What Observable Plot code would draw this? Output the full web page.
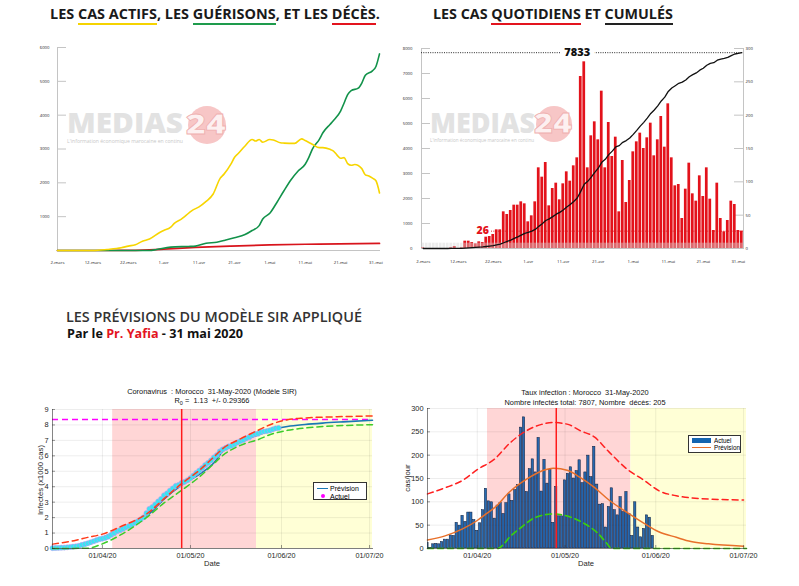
<!DOCTYPE html>
<html>
<head>
<meta charset="utf-8">
<script src="https://cdn.jsdelivr.net/npm/d3@7"></script>
<script src="https://cdn.jsdelivr.net/npm/@observablehq/plot@0.6"></script>
<style>
html,body{margin:0;padding:0;background:#fff;}
#wrap{position:relative;width:799px;height:586px;overflow:hidden;background:#fff;}
.abs{position:absolute;}
.head{position:absolute;white-space:nowrap;font-family:"Open Sans",sans-serif;font-weight:700;color:#1a1a1a;line-height:16px;font-size:13px;}
.uy{border-bottom:2px solid #f5d300;}
.ug{border-bottom:2px solid #1e9b4c;}
.ur{border-bottom:2px solid #e3141e;}
.uk{border-bottom:2px solid #222;}
.ml{position:absolute;font-family:"Liberation Sans",Arial,sans-serif;color:#111;white-space:pre;text-align:center;}
.leg{position:absolute;background:#fff;border:0.7px solid #333;box-sizing:border-box;font-family:"Liberation Sans",Arial,sans-serif;}
.leg div{position:absolute;white-space:nowrap;}
</style>
</head>
<body>
<div id="wrap">
  <svg class="abs" width="799" height="586" style="left:0;top:0">
    <g font-family="Open Sans, sans-serif" font-weight="800">
      <text x="67" y="133" font-size="29" fill="#e2e2e2" textLength="116" lengthAdjust="spacingAndGlyphs">MEDIAS</text>
      <circle cx="207" cy="125" r="19" fill="#f7c6c6"/>
      <text x="186" y="134" font-size="29" fill="#fdf0f0" stroke="#efb0b0" stroke-width="0.8" textLength="40" lengthAdjust="spacingAndGlyphs">24</text>
      <text x="67" y="143" font-size="4.6" font-weight="400" fill="#c8c8c8" textLength="116" lengthAdjust="spacingAndGlyphs">L'information économique marocaine en continu</text>
      <text x="430" y="133" font-size="29" fill="#e2e2e2" textLength="105" lengthAdjust="spacingAndGlyphs">MEDIAS</text>
      <circle cx="554" cy="124" r="18" fill="#f7c6c6"/>
      <text x="534" y="133" font-size="28" fill="#fdf0f0" stroke="#efb0b0" stroke-width="0.8" textLength="38" lengthAdjust="spacingAndGlyphs">24</text>
      <text x="430" y="142" font-size="4.4" font-weight="400" fill="#c8c8c8" textLength="104" lengthAdjust="spacingAndGlyphs">L'information économique marocaine en continu</text>
    </g>
  </svg>

  <div id="h1" class="head" style="left:50px;top:6px">LES <span class="uy">CAS ACTIFS</span>, LES <span class="ug">GUÉRISONS</span>, ET LES <span class="ur">DÉCÈS</span>.</div>
  <div id="h2" class="head" style="left:433px;top:6px">LES CAS <span class="ur">QUOTIDIENS</span> ET <span class="uk">CUMULÉS</span></div>
  <div id="h3" class="head" style="left:66px;top:310px;font-size:11.5px;line-height:14px;font-weight:600;color:#333">LES PRÉVISIONS DU MODÈLE SIR APPLIQUÉ</div>
  <div id="h4" class="head" style="left:67px;top:327px;font-size:12px;line-height:14px;color:#111">Par le <span style="color:#e3141e">Pr. Yafia</span> - 31 mai 2020</div>

  <div id="p1" class="abs" style="left:0;top:35px"></div>
  <div id="p2" class="abs" style="left:399px;top:35px"></div>
  <div id="p3" class="abs" style="left:0;top:380px"></div>
  <div id="p4" class="abs" style="left:395px;top:380px"></div>

  <div class="ml" style="left:62px;width:300px;top:387px;font-size:7.4px;line-height:9px">Coronavirus  : Morocco  31-May-2020 (Modèle SIR)</div>
  <div class="ml" style="left:62px;width:300px;top:396px;font-size:7.4px;line-height:9px">R<sub style="font-size:5.5px;vertical-align:-1.5px;line-height:0">0</sub> =  1.13  +/- 0.29366</div>
  <div class="ml" style="left:435px;width:300px;top:388px;font-size:7.4px;line-height:10px">Taux infection : Morocco  31-May-2020</div>
  <div class="ml" style="left:435px;width:300px;top:398px;font-size:7.4px;line-height:10px">Nombre infectés total: 7807, Nombre  décès: 205</div>

  <div class="ml" style="left:192px;width:40px;top:559px;font-size:7.6px;line-height:10px;color:#262626">Date</div>
  <div class="ml" style="left:566px;width:40px;top:559px;font-size:7.6px;line-height:10px;color:#262626">Date</div>
  <div class="ml" style="left:-9px;width:100px;top:475px;font-size:7.8px;line-height:10px;color:#262626;transform:rotate(-90deg)">Infectés (x1000 cas)</div>
  <div class="ml" style="left:368px;width:80px;top:473px;font-size:7.8px;line-height:10px;color:#262626;transform:rotate(-90deg)">cas/jour</div>

  <div class="leg" style="left:313px;top:482px;width:54px;height:18px;font-size:7px">
    <div style="left:3px;top:4.6px;width:11px;height:1.8px;background:#1a78b4"></div>
    <div style="left:16px;top:0.8px;line-height:9px">Prévision</div>
    <div style="left:7px;top:10.5px;width:4px;height:4px;border-radius:50%;background:#ff00ff"></div>
    <div style="left:16px;top:8.5px;line-height:9px">Actuel</div>
  </div>
  <div class="leg" style="left:688px;top:435px;width:53px;height:18px;font-size:6.3px">
    <div style="left:3px;top:2.3px;width:19px;height:4.4px;background:#1565b0"></div>
    <div style="left:25px;top:0.5px;line-height:8px">Actuel</div>
    <div style="left:3px;top:10.8px;width:19px;height:1.6px;background:#e8702a"></div>
    <div style="left:25px;top:7.8px;line-height:8px">Prévision</div>
  </div>
</div>

<script>
// ================= DATA =================
// Panel 1 : cas actifs, guérisons, décès
const activeDates = ["2020-03-02","2020-03-12","2020-03-16","2020-03-20","2020-03-22","2020-03-24","2020-03-26","2020-03-28","2020-03-31","2020-04-01","2020-04-03","2020-04-04","2020-04-06","2020-04-07","2020-04-09","2020-04-11","2020-04-13","2020-04-15","2020-04-17","2020-04-18","2020-04-20","2020-04-21","2020-04-22","2020-04-24","2020-04-26","2020-04-27","2020-04-28","2020-04-29","2020-05-01","2020-05-02","2020-05-04","2020-05-05","2020-05-08","2020-05-10","2020-05-11","2020-05-13","2020-05-15","2020-05-16","2020-05-18","2020-05-19","2020-05-20","2020-05-21","2020-05-22","2020-05-23","2020-05-24","2020-05-25","2020-05-27","2020-05-28","2020-05-29","2020-05-30","2020-05-31","2020-06-01"];
const activeCases = [0,0,30,80,130,170,275,340,540,590,690,800,930,1010,1180,1290,1450,1670,2140,2250,2550,2750,2860,3090,3280,3235,3280,3200,3280,3265,3185,3175,3165,3300,3250,3140,3040,3040,2990,2940,2820,2725,2745,2570,2520,2540,2420,2235,2205,2140,2060,1700];
const recoveredDates = ["2020-03-02","2020-03-28","2020-03-30","2020-04-03","2020-04-08","2020-04-10","2020-04-13","2020-04-16","2020-04-18","2020-04-21","2020-04-24","2020-04-26","2020-04-28","2020-04-29","2020-05-01","2020-05-03","2020-05-05","2020-05-07","2020-05-09","2020-05-11","2020-05-12","2020-05-13","2020-05-15","2020-05-16","2020-05-18","2020-05-19","2020-05-21","2020-05-22","2020-05-23","2020-05-24","2020-05-26","2020-05-27","2020-05-28","2020-05-30","2020-05-31","2020-06-01"];
const recoveredCases = [0,0,30,100,120,130,215,245,295,375,470,590,735,930,1100,1420,1765,2090,2350,2550,2745,2990,3285,3480,3725,3840,4120,4360,4610,4725,4800,4950,5180,5310,5440,5810];
const deathDates = ["2020-03-02","2020-03-12","2020-03-20","2020-03-28","2020-04-01","2020-04-10","2020-04-20","2020-05-01","2020-05-15","2020-06-01"];
const deathCases = [0,0,2,20,40,90,130,165,190,210];
const p1Domain = ["2020-03-02","2020-06-01"];
const p1TickDates = ["2020-03-02","2020-03-12","2020-03-22","2020-04-01","2020-04-11","2020-04-21","2020-05-01","2020-05-11","2020-05-21","2020-05-31"];
const p1TickLabels = ["2-mars","12-mars","22-mars","1-avr","11-avr","21-avr","1-mai","11-mai","21-mai","31-mai"];
const p1YTicks = [1000,2000,3000,4000,5000,6000];
const p1YMax = 6000;

// Panel 2 : cas quotidiens et cumulés (2 mars -> 1 juin)
const dailyRange = ["2020-03-02","2020-06-02"];
const dailyCases = [1,0,0,0,0,0,0,0,1,3,0,1,11,11,9,7,10,9,17,18,21,28,28,55,51,57,65,65,70,67,40,49,70,121,107,129,64,90,98,73,97,115,101,124,136,258,280,121,169,190,163,236,121,189,138,167,55,132,69,102,145,160,173,150,166,188,139,163,198,152,217,136,94,96,45,89,128,82,71,109,78,121,74,27,98,45,25,42,71,66,27,26];
const cumulativeCases = [1,1,1,1,1,1,1,1,2,5,5,6,17,28,37,44,54,63,80,98,119,147,175,230,281,338,403,468,538,605,645,694,764,885,992,1121,1185,1275,1373,1446,1543,1658,1759,1883,2019,2287,2567,2688,2857,3047,3210,3446,3567,3756,3894,4061,4116,4248,4317,4419,4564,4724,4897,5047,5213,5401,5540,5703,5901,6053,6283,6419,6513,6609,6654,6743,6871,6953,7024,7133,7211,7332,7406,7433,7531,7576,7601,7643,7714,7780,7807,7833];
const p2LeftTicks = [0,1000,2000,3000,4000,5000,6000,7000,8000];
const p2RightTicks = [0,50,100,150,200,250,300];
const p2LeftMax = 8000, p2RightMax = 300;
const p2TotalLabel = 7833, p2LastLabel = 26;
const p2GreyBand = 8;

// Panel 3 : modèle SIR (infectés cumulés, x1000)
const sirDomain = ["2020-03-15","2020-07-02"];
const phaseEdges = ["2020-04-04T12:00Z","2020-05-23T12:00Z","2020-07-02"];
const peakDate = "2020-04-28";
const sirPlateau = 8.35;
const sirUpperDates = ["2020-03-15","2020-03-23","2020-03-27","2020-04-01","2020-04-07","2020-04-17","2020-04-22","2020-04-28","2020-05-04","2020-05-09","2020-05-12","2020-05-18","2020-05-24","2020-05-29","2020-06-03","2020-06-09","2020-06-20","2020-07-02"];
const sirUpper = [0.28,0.54,0.72,0.93,1.4,2.37,3.23,4.2,5.06,5.93,6.47,7.1,7.65,8.08,8.34,8.45,8.53,8.58];
const sirForecastDates = ["2020-03-15","2020-03-20","2020-03-27","2020-04-01","2020-04-07","2020-04-12","2020-04-17","2020-04-22","2020-04-28","2020-05-04","2020-05-09","2020-05-12","2020-05-18","2020-05-24","2020-05-29","2020-06-03","2020-06-09","2020-06-15","2020-06-22","2020-07-02"];
const sirForecast = [0.03,0.08,0.35,0.72,1.25,1.65,2.25,3.2,4.1,4.8,5.55,6.3,6.9,7.35,7.7,7.9,8.03,8.12,8.2,8.3];
const sirLowerDates = ["2020-03-15","2020-03-27","2020-04-01","2020-04-07","2020-04-17","2020-04-22","2020-04-28","2020-05-04","2020-05-09","2020-05-12","2020-05-18","2020-05-24","2020-05-29","2020-06-03","2020-06-09","2020-07-02"];
const sirLower = [0,0.02,0.3,0.86,2.15,2.95,3.77,4.63,5.5,6.03,6.68,7.05,7.43,7.65,7.8,8.02];
const sirYTicks = [0,1,2,3,4,5,6,7,8,9];
const monthTicks = ["2020-04-01","2020-05-01","2020-06-01","2020-07-01"];

// Panel 4 : taux d'infection (cas/jour)
const modelDailyRange = ["2020-03-15","2020-06-01"];
const modelDaily = [12,1,9,10,9,14,19,19,28,27,55,49,70,57,77,77,61,38,54,82,128,101,99,64,92,98,74,97,116,102,125,136,259,281,121,170,191,163,237,122,190,139,168,55,132,69,69,146,160,174,150,166,189,140,163,199,153,218,137,94,95,45,89,129,82,71,110,78,121,74,27,99,45,24,42,71,66,27];
const rateUpperDates = ["2020-03-15","2020-03-21","2020-03-27","2020-04-01","2020-04-07","2020-04-12","2020-04-18","2020-04-23","2020-04-27","2020-05-02","2020-05-06","2020-05-11","2020-05-16","2020-05-22","2020-05-28","2020-06-02","2020-06-08","2020-06-19","2020-07-01"];
const rateUpper = [117,130,146,169,192,225,253,266,270,266,253,239,207,171,146,124,113,106,104];
const rateForecastDates = ["2020-03-15","2020-03-21","2020-03-27","2020-04-01","2020-04-04","2020-04-07","2020-04-12","2020-04-18","2020-04-23","2020-04-27","2020-05-02","2020-05-06","2020-05-11","2020-05-16","2020-05-22","2020-05-28","2020-06-02","2020-06-08","2020-06-13","2020-06-19","2020-07-01"];
const rateForecast = [18,27,42,60,74,88,121,149,166,172,167,153,131,104,78,54,36,24,15,10,5];
const rateLowerDates = ["2020-03-15","2020-04-08","2020-04-10","2020-04-12","2020-04-16","2020-04-21","2020-04-27","2020-05-03","2020-05-08","2020-05-12","2020-05-15","2020-05-17","2020-07-02"];
const rateLower = [0,0,9,24,45,67,74,67,52,34,13,0,0];
const rateYTicks = [0,50,100,150,200,250,300];

// ================= HELPERS =================
const D = s => new Date(s);
const rows = (dates, vals) => dates.map((d, i) => ({date: D(d), value: vals[i]}));
const tiny = {fontFamily: "Open Sans, sans-serif", background: "transparent"};
const mat = {fontFamily: "Liberation Sans, Arial, sans-serif", background: "transparent", color: "#262626"};

// ================= PANEL 1 =================
{
  const W = 399, H = 240, mL = 57, mR = 20, mT = 12, mB = 25;
  const tickD = p1TickDates.map(D);
  const p = Plot.plot({
    width: W, height: H, marginLeft: mL, marginRight: mR, marginTop: mT, marginBottom: mB,
    style: tiny,
    x: {type: "utc", domain: p1Domain.map(D), label: null},
    y: {domain: [0, p1YMax], label: null},
    marks: [
      Plot.frame({anchor: "left", stroke: "#c4c4c4"}),
      Plot.frame({anchor: "bottom", stroke: "#c4c4c4"}),
      Plot.tickY(p1YTicks, {y: d => d, stroke: "#c4c4c4", insetRight: W - mL - mR - 9}),
      Plot.axisY({ticks: p1YTicks, tickFormat: d => String(d), tickSize: 0, tickPadding: 8, fontSize: 4.3, fill: "#222"}),
      Plot.axisX({ticks: tickD, tickFormat: d => p1TickLabels[tickD.findIndex(t => +t === +d)], tickSize: 0, tickPadding: 10, fontSize: 4.3, fill: "#222"}),
      Plot.line(rows(deathDates, deathCases), {x: "date", y: "value", stroke: "#d8141c", strokeWidth: 1.7, curve: "monotone-x"}),
      Plot.line(rows(recoveredDates, recoveredCases), {x: "date", y: "value", stroke: "#12924a", strokeWidth: 1.6, curve: "monotone-x"}),
      Plot.line(rows(activeDates, activeCases), {x: "date", y: "value", stroke: "#f7d500", strokeWidth: 1.6, curve: "monotone-x"})
    ]
  });
  document.getElementById("p1").append(p);
}

// ================= PANEL 2 =================
const dailyDates = d3.utcDay.range(D(dailyRange[0]), D(dailyRange[1]));
const rows2 = dailyDates.map((date, i) => ({date, daily: dailyCases[i], cum: cumulativeCases[i]}));
{
  const W = 400, H = 240, mL = 22, mR = 56, mT = 13, mB = 27;
  const k = p2RightMax / p2LeftMax;
  const tickD = p1TickDates.map(D);
  const p = Plot.plot({
    width: W, height: H, marginLeft: mL, marginRight: mR, marginTop: mT, marginBottom: mB,
    style: tiny,
    x: {type: "band", domain: dailyDates, paddingInner: 0.22, paddingOuter: 0.1, label: null},
    y: {domain: [0, p2RightMax], label: null},
    marks: [
      Plot.frame({anchor: "left", stroke: "#c4c4c4"}),
      Plot.frame({anchor: "right", stroke: "#c4c4c4"}),
      Plot.frame({anchor: "bottom", stroke: "#c4c4c4"}),
      Plot.tickY(p2LeftTicks, {y: d => d * k, stroke: "#c4c4c4", insetRight: W - mL - mR - 9}),
      Plot.tickY(p2RightTicks, {y: d => d, stroke: "#c4c4c4", insetLeft: W - mL - mR - 9}),
      Plot.barY(rows2, {x: "date", y: "daily", fill: "#e3121b"}),
      Plot.barY(rows2, {x: "date", y1: 0, y2: p2GreyBand, fill: "#d4d4d4", fillOpacity: 0.45}),
      Plot.ruleY([p2LastLabel], {y: d => d, stroke: "#e3121b", strokeWidth: 0.9, strokeDasharray: "1,1.3", insetLeft: 70}),
      Plot.text([p2LastLabel], {x: () => dailyDates[17], y: d => d, text: d => String(d), fill: "#e3121b", fontWeight: 800, fontSize: 10.5, lineAnchor: "bottom", dy: 3}),
      Plot.line(rows2, {x: "date", y: d => d.cum * k, stroke: "#111", strokeWidth: 1.3}),
      Plot.ruleY([p2TotalLabel], {y: d => d * k, stroke: "#111", strokeWidth: 0.9, strokeDasharray: "1,1.3"}),
      Plot.text([p2TotalLabel], {x: () => dailyDates[44], y: d => d * k, text: d => String(d), fill: "#111", fontWeight: 800, fontSize: 11, stroke: "white", strokeWidth: 10, paintOrder: "stroke"}),
      Plot.axisY({anchor: "left", ticks: p2LeftTicks.map(v => v * k), tickFormat: v => String(p2LeftTicks[Math.round(v / k / 1000)]), tickSize: 0, tickPadding: 9, fontSize: 4.3, fill: "#222"}),
      Plot.axisY({anchor: "right", ticks: p2RightTicks, tickFormat: d => String(d), tickSize: 0, tickPadding: 2, fontSize: 4.3, fill: "#222"}),
      Plot.axisX({ticks: tickD, tickFormat: d => p1TickLabels[tickD.findIndex(t => +t === +d)], tickSize: 0, tickPadding: 11, fontSize: 4.3, fill: "#222"})
    ]
  });
  document.getElementById("p2").append(p);
}

// ================= PANEL 3 =================
{
  const W = 395, H = 200, mL = 52, mR = 23, mT = 29, mB = 32;
  const months = monthTicks.map(D);
  const actual = rows2.slice(13, 91);
  const p = Plot.plot({
    width: W, height: H, marginLeft: mL, marginRight: mR, marginTop: mT, marginBottom: mB,
    style: mat,
    x: {type: "utc", domain: sirDomain.map(D), label: null},
    y: {domain: [0, 9], label: null},
    marks: [
      Plot.rect([0], {x1: () => D(phaseEdges[0]), x2: () => D(phaseEdges[1]), fill: "#ffd6d6"}),
      Plot.rect([0], {x1: () => D(phaseEdges[1]), x2: () => D(phaseEdges[2]), fill: "#ffffd6"}),
      Plot.gridY(sirYTicks, {stroke: "#000", strokeOpacity: 0.07}),
      Plot.gridX(months, {stroke: "#000", strokeOpacity: 0.07}),
      Plot.ruleY([sirPlateau], {stroke: "#ff00ff", strokeWidth: 1.4, strokeDasharray: "6,4"}),
      Plot.line(rows(sirForecastDates, sirForecast), {x: "date", y: "value", stroke: "#1a78b4", strokeWidth: 1.6, curve: "monotone-x"}),
      Plot.dot(actual, {x: "date", y: d => d.cum / 1000, r: 2.6, fill: "#35e8f2", stroke: "#d78af0", strokeWidth: 0.5}),
      Plot.line(rows(sirUpperDates, sirUpper), {x: "date", y: "value", stroke: "#ff3a1a", strokeWidth: 1.5, strokeDasharray: "6,4", curve: "monotone-x"}),
      Plot.line(rows(sirLowerDates, sirLower), {x: "date", y: "value", stroke: "#3ccc2a", strokeWidth: 1.5, strokeDasharray: "6,4", curve: "monotone-x"}),
      Plot.ruleX([D(peakDate)], {stroke: "#ff1a1a", strokeWidth: 1.5}),
      Plot.frame({anchor: "left", stroke: "#333", strokeWidth: 0.6}),
      Plot.frame({anchor: "bottom", stroke: "#333", strokeWidth: 0.6}),
      Plot.tickY(sirYTicks, {y: d => d, stroke: "#333", strokeWidth: 0.5, insetRight: W - mL - mR - 3}),
      Plot.tickX(months, {x: d => d, stroke: "#333", strokeWidth: 0.5, insetTop: H - mT - mB - 3}),
      Plot.axisY({ticks: sirYTicks, tickSize: 0, tickPadding: 4, fontSize: 7.4}),
      Plot.axisX({ticks: months, tickFormat: d3.utcFormat("%d/%m/%y"), tickSize: 0, tickPadding: 4, fontSize: 7.2})
    ]
  });
  document.getElementById("p3").append(p);
}

// ================= PANEL 4 =================
{
  const W = 404, H = 200, mL = 32, mR = 53, mT = 28, mB = 32;
  const months = monthTicks.map(D);
  const bars = d3.utcDay.range(D(modelDailyRange[0]), D(modelDailyRange[1])).map((date, i) => ({date, value: modelDaily[i]}));
  const p = Plot.plot({
    width: W, height: H, marginLeft: mL, marginRight: mR, marginTop: mT, marginBottom: mB,
    style: mat,
    x: {type: "utc", domain: sirDomain.map(D), label: null},
    y: {domain: [0, 300], label: null},
    marks: [
      Plot.rect([0], {x1: () => D(phaseEdges[0]), x2: () => D(phaseEdges[1]), fill: "#ffd6d6"}),
      Plot.rect([0], {x1: () => D(phaseEdges[1]), x2: () => D(phaseEdges[2]), fill: "#ffffd6"}),
      Plot.gridY(rateYTicks, {stroke: "#000", strokeOpacity: 0.07}),
      Plot.gridX(months, {stroke: "#000", strokeOpacity: 0.07}),
      Plot.rectY(bars, {x1: d => d3.utcHour.offset(d.date, -9.5), x2: d => d3.utcHour.offset(d.date, 9.5), y: "value", fill: "#0a58a8", fillOpacity: 0.88, stroke: "#0d1a38", strokeWidth: 0.5, clip: true}),
      Plot.line(rows(rateUpperDates, rateUpper), {x: "date", y: "value", stroke: "#ff2020", strokeWidth: 1.5, strokeDasharray: "6,4", curve: "monotone-x"}),
      Plot.line(rows(rateLowerDates, rateLower), {x: "date", y: "value", stroke: "#3ad10a", strokeWidth: 1.6, strokeDasharray: "6,4", curve: "monotone-x"}),
      Plot.line(rows(rateForecastDates, rateForecast), {x: "date", y: "value", stroke: "#e8702a", strokeWidth: 1.5, curve: "monotone-x"}),
      Plot.ruleX([D(peakDate)], {stroke: "#ff1a1a", strokeWidth: 1.5}),
      Plot.frame({anchor: "left", stroke: "#333", strokeWidth: 0.6}),
      Plot.frame({anchor: "bottom", stroke: "#333", strokeWidth: 0.6}),
      Plot.tickY(rateYTicks, {y: d => d, stroke: "#333", strokeWidth: 0.5, insetRight: W - mL - mR - 3}),
      Plot.tickX(months, {x: d => d, stroke: "#333", strokeWidth: 0.5, insetTop: H - mT - mB - 3}),
      Plot.axisY({ticks: rateYTicks, tickSize: 0, tickPadding: 4, fontSize: 7.4}),
      Plot.axisX({ticks: months, tickFormat: d3.utcFormat("%d/%m/%y"), tickSize: 0, tickPadding: 4, fontSize: 7.2})
    ]
  });
  document.getElementById("p4").append(p);
}

// ================= fit headings to measured widths =================
function fit(id, target) {
  const el = document.getElementById(id);
  const w = el.getBoundingClientRect().width;
  const fs = parseFloat(getComputedStyle(el).fontSize);
  el.style.fontSize = (fs * target / w).toFixed(2) + "px";
}
fit("h1", 330); fit("h2", 240); fit("h3", 296); fit("h4", 176);
</script>
</body>
</html>
